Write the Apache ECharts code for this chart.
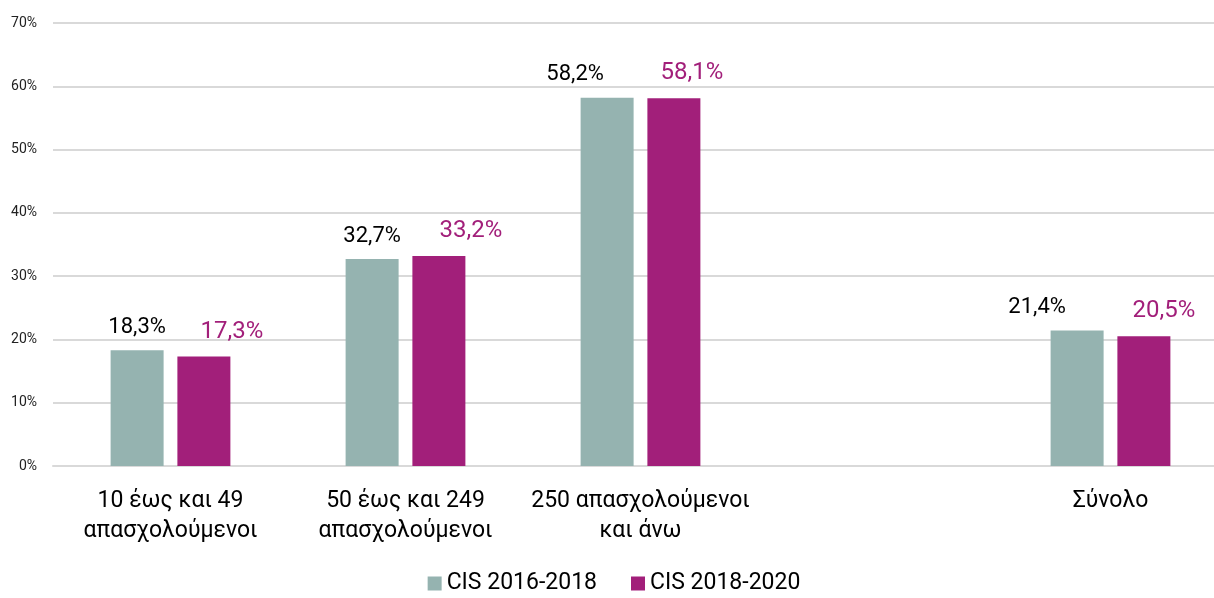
<!DOCTYPE html>
<html>
<head>
<meta charset="utf-8">
<script src="https://cdn.jsdelivr.net/npm/echarts@6/dist/echarts.min.js"></script>
<style>
  html, body { margin: 0; padding: 0; background: #fff; overflow: hidden; }
  /* the plot area runs slightly past the right edge of the window */
  #chart { width: 1228px; height: 598px; }
</style>
</head>
<body>
<div id="chart"></div>
<script>
// κατηγορίες (η κενή θέση κρατά το κενό πριν το "Σύνολο")
const categories = ['10 έως και 49\nαπασχολούμενοι', '50 έως και 249\nαπασχολούμενοι', '250 απασχολούμενοι\nκαι άνω', '', 'Σύνολο'];
const cis2016 = [18.3, 32.7, 58.2, null, 21.4];
const cis2018 = [17.3, 33.2, 58.1, null, 20.5];
const seriesNames = ['CIS 2016-2018', 'CIS 2018-2020'];
const yTicks = [0, 10, 20, 30, 40, 50, 60, 70];

// οι ετικέτες τιμών δεν είναι πάντα κεντραρισμένες πάνω στη μπάρα
const labelShift2016 = [0, 0, -32, 0, -40];
const labelShift2018 = [28, 32, 18, 0, 20];

const font = 'Roboto, "Noto Sans", sans-serif';
const fmt = p => p.value == null ? '' : p.value.toFixed(1).replace('.', ',') + '%';

function withLabelShift (values, shifts) {
  return values.map((v, i) => ({ value: v, label: { offset: [shifts[i], 0] } }));
}

const chart = echarts.init(document.getElementById('chart'));
chart.setOption({
  animation: false,
  textStyle: { fontFamily: font },
  grid: { left: 53, right: 0, top: 23, bottom: 132 },
  legend: {
    bottom: -2,
    left: 'center',
    itemWidth: 14,
    itemHeight: 14,
    itemGap: 34,
    icon: 'rect',
    textStyle: { fontSize: 23, color: '#000', fontFamily: font },
    data: seriesNames
  },
  xAxis: {
    type: 'category',
    data: categories,
    axisTick: { show: false },
    axisLine: { lineStyle: { color: '#d9d9d9', width: 2 } },
    axisLabel: { fontSize: 23, color: '#000', lineHeight: 30, margin: 20, interval: 0 }
  },
  yAxis: {
    type: 'value',
    min: yTicks[0],
    max: yTicks[yTicks.length - 1],
    interval: 10,
    axisLine: { show: false },
    axisTick: { show: false },
    splitLine: { lineStyle: { color: '#d9d9d9', width: 2 } },
    axisLabel: { fontSize: 14, color: '#222', margin: 16, formatter: v => v + '%' }
  },
  series: [
    {
      name: seriesNames[0],
      type: 'bar',
      data: withLabelShift(cis2016, labelShift2016),
      barWidth: 53,
      barGap: '26%',
      itemStyle: { color: '#95b3b0' },
      label: { show: true, position: 'top', distance: 12, fontSize: 22, color: '#000', formatter: fmt }
    },
    {
      name: seriesNames[1],
      type: 'bar',
      data: withLabelShift(cis2018, labelShift2018),
      barWidth: 53,
      barGap: '26%',
      itemStyle: { color: '#a21f7a' },
      label: { show: true, position: 'top', distance: 13, fontSize: 24, color: '#a21f7a', formatter: fmt }
    }
  ]
});
</script>
</body>
</html>
